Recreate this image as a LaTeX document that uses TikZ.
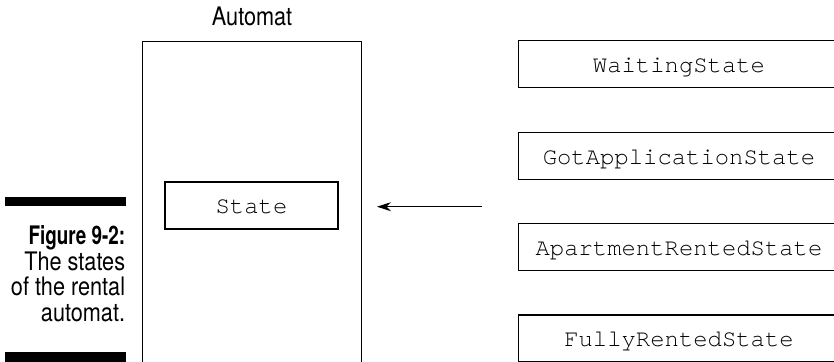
\documentclass[tikz,border=0pt]{standalone}
\usepackage{fontspec}
\setmonofont{TeX Gyre Cursor}
\newfontfamily\capfont{TeX Gyre Heros}[FakeStretch=0.85]
\newfontfamily\capboldfont{TeX Gyre Heros}[FakeStretch=0.74]
\usepackage{tikz}
\usetikzlibrary{arrows.meta, positioning}

\begin{document}
\begin{tikzpicture}[
    x=0.5pt, y=-0.5pt,
    line width=0.6pt,
    classbox/.style={draw, minimum width=#1, minimum height=23.5pt, inner sep=0pt,
      font=\ttfamily\fontsize{11.95}{14}\selectfont, text height=0.8em, text depth=0pt},
    caption/.style={font=\capfont\fontsize{12.75}{13}\selectfont, inner sep=0pt},
    capline/.style={caption, anchor=base east},
    bar/.style={fill=black},
    msg/.style={-{Stealth[length=7pt, width=4.5pt]}, line width=0.5pt},
]
    % Page frame
    \useasboundingbox (0,0) rectangle (834,361);
    \clip (0,0) rectangle (834,361);

    % Automat holding its current state
    \node[draw, anchor=north west, minimum width=109.5pt, minimum height=170pt, inner sep=0pt] (automat) at (142,40.7) {};
    \node[caption, above=7.3pt of automat] (automatlabel) {Automat};
    \node[classbox=86.5pt] (state) at (251.5,205.5) {State};

    % Concrete states
    \node[classbox=160.3pt] (waiting) at (679,64) {WaitingState};
    \node[classbox=160.3pt] (gotapp) at (679,156) {GotApplicationState};
    \node[classbox=160.3pt] (rented) at (679,247) {ApartmentRentedState};
    \node[classbox=160.3pt] (fully) at (679,338.5) {FullyRentedState};

    % Assignment arrow
    \coordinate (pick) at (482,206.7);
    \coordinate (slot) at (377,206.7);
    \draw[msg] (pick) -- (slot);

    % Figure caption
    \fill[bar] (5,197) rectangle (125.7,206);
    \node[capline] (figlabel) at (125.7,244) {\capboldfont\bfseries Figure 9-2:};
    \node[capline] (capline1) at (125.7,270) {The states};
    \node[capline] (capline2) at (125.7,295.5) {of the rental};
    \node[capline] (capline3) at (125.7,321) {automat.};
    \fill[bar] (5,352) rectangle (125.7,370);

\end{tikzpicture}
\end{document}
